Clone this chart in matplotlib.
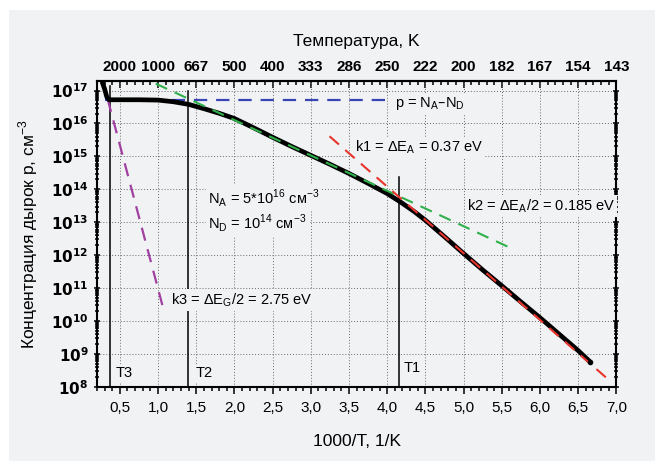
import numpy as np
import matplotlib.pyplot as plt
from matplotlib.patches import Rectangle
from matplotlib.ticker import FixedLocator, MultipleLocator, FuncFormatter, LogLocator, NullFormatter

plt.rcParams['font.family'] = ['Liberation Sans', 'DejaVu Sans']

# measured curve: 1000/T and log10(p)
inv_t = [0.27, 0.30, 0.33, 0.36, 0.5, 0.75, 1.0, 1.2, 1.4, 1.6, 1.8, 2.0, 2.25, 2.5,
         2.75, 3.0, 3.25, 3.5, 3.75, 4.0, 4.17, 4.35, 4.5, 4.75, 5.0, 5.25, 5.5,
         5.75, 6.0, 6.25, 6.5, 6.66]
log_p = [17.25, 17.05, 16.80, 16.72, 16.72, 16.72, 16.71, 16.66, 16.58, 16.45, 16.31,
         16.15, 15.87, 15.58, 15.30, 15.03, 14.76, 14.48, 14.18, 13.87, 13.62, 13.33,
         13.06, 12.56, 12.05, 11.55, 11.07, 10.58, 10.10, 9.60, 9.10, 8.75]

# fitted lines (endpoints, x and log10 p)
sat_x, sat_y = [0.30, 4.0], [16.70, 16.70]
k1_x, k1_y = [3.245, 6.94], [15.61, 8.13]
k2_x, k2_y = [0.97, 5.65], [17.21, 12.18]
k3_x, k3_y = [0.265, 1.06], [17.40, 10.45]

# characteristic temperatures: x, top of line (log10 p)
marks = {'T3': (0.365, 17.15), 'T2': (1.39, 17.0), 'T1': (4.16, 14.37)}

top_labels = ['2000', '1000', '667', '500', '400', '333', '286', '250', '222',
              '200', '182', '167', '154', '143']

bg = '#f1f2f4'
fig = plt.figure(figsize=(6.55, 4.61), dpi=100)
fig.patch.set_facecolor('white')
fig.patches.append(Rectangle((9 / 655, 0), 1, 1 - 10 / 461, transform=fig.transFigure,
                             facecolor=bg, edgecolor='none', zorder=-10))
ax = fig.add_axes([0.148, 0.161, 0.793, 0.664])
ax.set_facecolor(bg)
ax.set_yscale('log')
ax.set_xlim(0.2, 7.0)
ax.set_ylim(1e8, 10 ** 17.3)

p = lambda v: [10 ** a for a in v]

ax.plot(sat_x, p(sat_y), color='#3a45b5', ls=(0, (6, 4)), lw=1.6, zorder=3)
ax.plot(k3_x, p(k3_y), color='#a040a0', ls=(0, (6, 4)), lw=1.6, zorder=3)
ax.plot(inv_t, p(log_p), color='black', lw=3.4, solid_capstyle='round', zorder=4)
ax.plot(k2_x, p(k2_y), color='#2fb04a', ls=(0, (6, 4)), lw=1.5, zorder=5)
ax.plot(k1_x, p(k1_y), color='#e8352e', ls=(0, (6, 4)), lw=1.5, zorder=5)
ax.plot([inv_t[-1]], [10 ** log_p[-1]], 'o', color='black', ms=3, zorder=6)

for name, (x, top) in marks.items():
    ax.plot([x, x], [1e8, 10 ** top], color='black', lw=1.1, zorder=2)

box = dict(facecolor=bg, edgecolor='none', pad=1.5)
fs = 10.5
ax.text(0.44, 10 ** 8.42, 'T3', fontsize=fs, va='center', bbox=box, zorder=3)
ax.text(1.49, 10 ** 8.42, 'T2', fontsize=fs, va='center', bbox=box, zorder=3)
ax.text(4.21, 10 ** 8.57, 'T1', fontsize=fs, va='center', bbox=box, zorder=3)
ax.text(4.1, 10 ** 16.6, r'p = N$_\mathregular{A}$–N$_\mathregular{D}$', fontsize=fs,
        va='center', bbox=box, zorder=3)
ax.text(3.58, 10 ** 15.27, r'k1 = ΔE$_\mathregular{A}$ = 0.37 eV', fontsize=fs,
        va='center', bbox=box, zorder=3)
ax.text(5.04, 10 ** 13.5, r'k2 = ΔE$_\mathregular{A}$/2 = 0.185 eV', fontsize=fs,
        va='center', bbox=box, zorder=3)
ax.text(1.66, 10 ** 13.73, r'N$_\mathregular{A}$ = 5*10$^\mathregular{16}$ см$^\mathregular{-3}$',
        fontsize=fs, va='center', bbox=box, zorder=3)
ax.text(1.66, 10 ** 12.97, r'N$_\mathregular{D}$ = 10$^\mathregular{14}$ см$^\mathregular{-3}$',
        fontsize=fs, va='center', bbox=box, zorder=3)
ax.text(1.17, 10 ** 10.64, r'k3 = ΔE$_\mathregular{G}$/2 = 2.75 eV', fontsize=fs,
        va='center', bbox=box, zorder=3)

# grid and ticks
major_x = np.arange(0.5, 7.01, 0.5)
ax.xaxis.set_major_locator(FixedLocator(major_x))
ax.xaxis.set_minor_locator(MultipleLocator(0.1))
ax.xaxis.set_major_formatter(FuncFormatter(lambda v, pos: f'{v:.1f}'.replace('.', ',')))
ax.yaxis.set_major_locator(LogLocator(base=10, numticks=20))
ax.yaxis.set_minor_locator(LogLocator(base=10, subs=np.arange(2, 10), numticks=20))
ax.yaxis.set_minor_formatter(NullFormatter())
ax.yaxis.set_major_formatter(FuncFormatter(
    lambda v, pos: r'$\mathbf{10^{%d}}$' % round(np.log10(v))))
ax.grid(True, which='major', ls=(0, (1, 2)), color='#6a6a6a', lw=0.7, zorder=1)
ax.set_axisbelow(True)

ax.tick_params(which='both', direction='out', width=1.1, labelsize=11)
ax.tick_params(axis='x', pad=5)
ax.tick_params(which='major', length=5)
ax.tick_params(which='minor', length=3)
ax.tick_params(axis='y', which='both', right=True, direction='inout')
ax.tick_params(axis='y', labelsize=11)
for s in ax.spines.values():
    s.set_linewidth(1.5)

top = ax.secondary_xaxis('top')
top.xaxis.set_major_locator(FixedLocator(major_x))
top.xaxis.set_minor_locator(MultipleLocator(0.1))
top.set_xticklabels(top_labels, fontweight='bold')
top.tick_params(which='both', direction='in', width=1.1, labelsize=11, pad=5)
top.tick_params(which='major', length=5)
top.tick_params(which='minor', length=3)
top.spines['top'].set_linewidth(1.5)
top.set_xlabel('Температура, K', fontsize=12.5, labelpad=10)

ax.set_xlabel('1000/T, 1/K', fontsize=12.5, labelpad=14)
ax.set_ylabel(r'Концентрация дырок p, см$^\mathregular{-3}$', fontsize=12.5, labelpad=8)

fig.savefig('out.png', dpi=100)
